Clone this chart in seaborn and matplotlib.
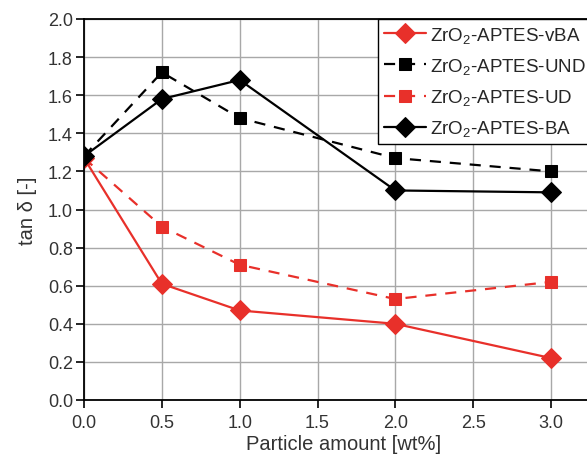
import numpy as np
import pandas as pd
import seaborn as sns
import matplotlib.pyplot as plt

# data
amount = [0.0, 0.5, 1.0, 2.0, 3.0]
tan_vba = [1.27, 0.61, 0.47, 0.40, 0.22]
tan_und = [1.28, 1.72, 1.48, 1.27, 1.20]
tan_ud = [1.27, 0.91, 0.71, 0.53, 0.62]
tan_ba = [1.28, 1.58, 1.68, 1.10, 1.09]

labels = [r"ZrO$_2$-APTES-vBA", r"ZrO$_2$-APTES-UND",
          r"ZrO$_2$-APTES-UD", r"ZrO$_2$-APTES-BA"]

red = "#e8302a"
styles = [
    (tan_vba, red, "D", "-", 10),
    (tan_und, "black", "s", (0, (5, 4)), 9),
    (tan_ud, red, "s", (0, (5, 4)), 9),
    (tan_ba, "black", "D", "-", 10),
]

sns.set_theme(style="ticks")
plt.rcParams["font.family"] = ["Liberation Sans", "DejaVu Sans"]
plt.rcParams["mathtext.fontset"] = "custom"
plt.rcParams["mathtext.rm"] = "Liberation Sans"
plt.rcParams["mathtext.it"] = "Liberation Sans:italic"

fig = plt.figure(figsize=(5.87, 4.60), dpi=100)
# axes runs past the right edge like the cropped original
ax = fig.add_axes([84 / 587, 59 / 460, 520 / 587, 381 / 460])

for (vals, col, mk, ls, ms), lab in zip(styles, labels):
    df = pd.DataFrame({"x": amount, "y": vals})
    sns.lineplot(data=df, x="x", y="y", ax=ax, color=col, marker=mk,
                 markersize=ms, markeredgecolor=col, linestyle=ls,
                 linewidth=1.6, label=lab)

ax.set_xlim(0, 520 / 155.67)
ax.set_ylim(0, 2.0)
ax.set_xticks(np.arange(0, 3.01, 0.5))
ax.set_yticks(np.arange(0, 2.01, 0.2))
ax.xaxis.set_major_formatter(plt.FormatStrFormatter("%.1f"))
ax.yaxis.set_major_formatter(plt.FormatStrFormatter("%.1f"))
ax.grid(True, color="#a8a8a8", linewidth=1.0)
ax.set_axisbelow(True)
for s in ax.spines.values():
    s.set_color("black")
    s.set_linewidth(1.3)
ax.tick_params(axis="both", direction="out", length=6, width=1.2,
               colors="black", labelsize=13, labelcolor="#333333")
ax.tick_params(axis="y", pad=2)
ax.tick_params(axis="x", pad=4)
ax.set_xlabel("Particle amount [wt%]", fontsize=14.5, color="#333333",
              labelpad=2)
ax.set_ylabel("tan δ [-]", fontsize=14.5, color="#333333", labelpad=8)

leg = ax.legend(loc="upper left", bbox_to_anchor=(378 / 587, 440 / 460),
                bbox_transform=fig.transFigure, fontsize=13.5,
                handlelength=2.25, borderaxespad=0, frameon=True,
                fancybox=False, framealpha=1, edgecolor="black",
                borderpad=0.3, labelspacing=0.6, handletextpad=0.25)
leg.get_frame().set_linewidth(1.0)

fig.savefig("out.png", dpi=100)
